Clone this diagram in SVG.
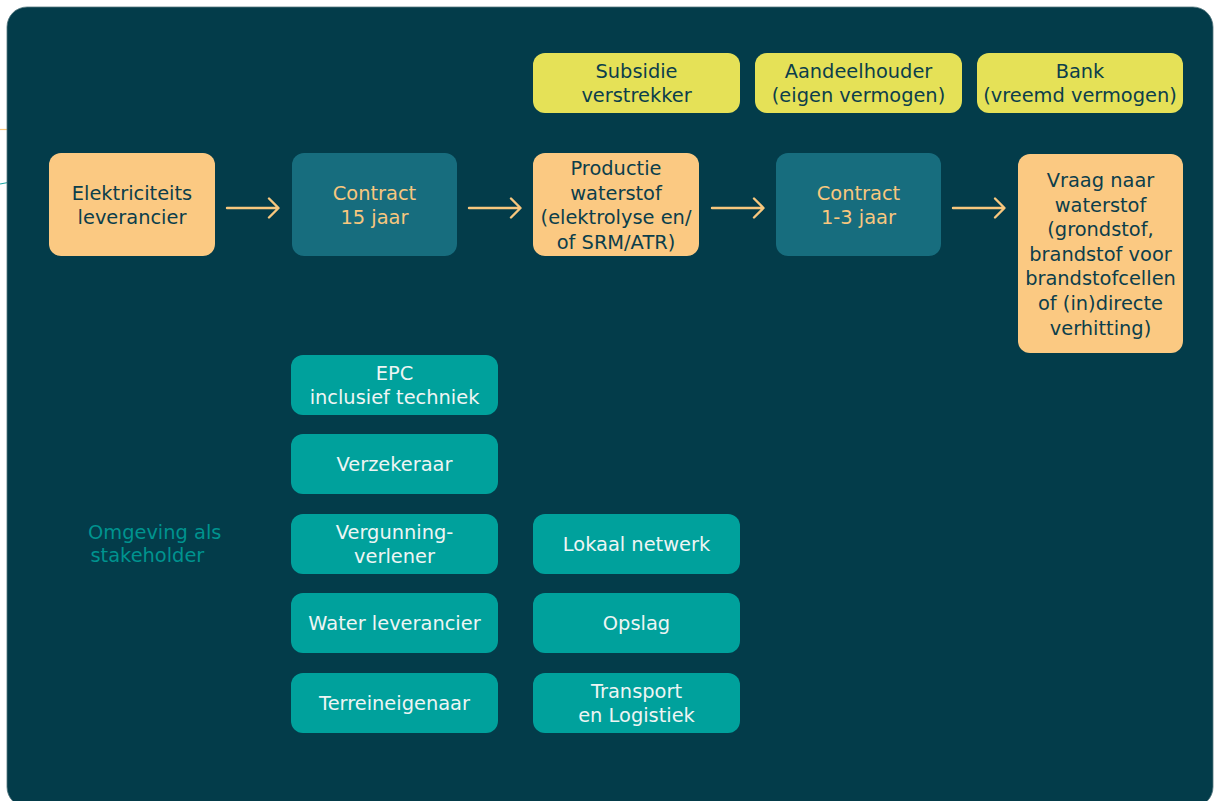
<svg xmlns="http://www.w3.org/2000/svg" width="1214" height="801" viewBox="0 0 1214 801">
<style>
text{font-family:"DejaVu Sans","Verdana",sans-serif;font-size:19.4px;text-anchor:middle}
.or{fill:#fbc982}
.ct{fill:#176d7e}
.ye{fill:#e5e157}
.tl{fill:#00a19c}
.dk{fill:#0c3e4b}
.ot{fill:#f8c77e}
.wt{fill:#eef5f4}
.conn path{fill:none;stroke:#f8c77e;stroke-width:2.4;stroke-linecap:round;stroke-linejoin:round}
</style>
<rect width="1214" height="801" fill="#ffffff"/>
<line x1="0" y1="129.5" x2="8" y2="129.5" stroke="#f8c77e" stroke-width="1.2"/>
<line x1="0" y1="184" x2="8" y2="182.5" stroke="#1aa6a4" stroke-width="1.2"/>
<rect x="7" y="7" width="1206" height="800" rx="20" fill="#033c4a" stroke="#56777f" stroke-width="0.8"/>

<g id="n-subsidie"><rect class="ye" x="533" y="53" width="207" height="60" rx="12"/><text class="dk" x="636.5" y="78">Subsidie</text><text class="dk" x="636.5" y="102">verstrekker</text></g>
<g id="n-aandeelhouder"><rect class="ye" x="755" y="53" width="207" height="60" rx="12"/><text class="dk" x="858.5" y="78">Aandeelhouder</text><text class="dk" x="858.5" y="102">(eigen vermogen)</text></g>
<g id="n-bank"><rect class="ye" x="977" y="53" width="206" height="60" rx="12"/><text class="dk" x="1080" y="78">Bank</text><text class="dk" x="1080" y="102">(vreemd vermogen)</text></g>

<g id="n-elek"><rect class="or" x="49" y="153" width="166" height="103" rx="12"/><text class="dk" x="132" y="200">Elektriciteits</text><text class="dk" x="132" y="224">leverancier</text></g>
<g id="n-contract15"><rect class="ct" x="292" y="153" width="165" height="103" rx="12"/><text class="ot" x="374.5" y="200">Contract</text><text class="ot" x="374.5" y="224">15 jaar</text></g>
<g id="n-productie"><rect class="or" x="533" y="153" width="166" height="103" rx="12"/><text class="dk" x="616" y="175">Productie</text><text class="dk" x="616" y="199.5">waterstof</text><text class="dk" x="616" y="224">(elektrolyse en/</text><text class="dk" x="616" y="248.5">of SRM/ATR)</text></g>
<g id="n-contract13"><rect class="ct" x="776" y="153" width="165" height="103" rx="12"/><text class="ot" x="858.5" y="200">Contract</text><text class="ot" x="858.5" y="224">1-3 jaar</text></g>
<g id="n-vraag"><rect class="or" x="1018" y="154" width="165" height="199" rx="12"/>
<text class="dk" x="1100.5" y="187">Vraag naar</text><text class="dk" x="1100.5" y="211.6">waterstof</text><text class="dk" x="1100.5" y="236.2">(grondstof,</text><text class="dk" x="1100.5" y="260.8">brandstof voor</text><text class="dk" x="1100.5" y="285.4">brandstofcellen</text><text class="dk" x="1100.5" y="310">of (in)directe</text><text class="dk" x="1100.5" y="334.6">verhitting)</text></g>

<g id="connectors" class="conn">
<path d="M227 208H278M269 198.5L278.5 208L269 217.5"/>
<path d="M469 208H520M511 198.5L520.5 208L511 217.5"/>
<path d="M712 208H763M754 198.5L763.5 208L754 217.5"/>
<path d="M953 208H1004M995 198.5L1004.5 208L995 217.5"/>
</g>

<g id="n-epc"><rect class="tl" x="291" y="355" width="207" height="60" rx="12"/><text class="wt" x="394.5" y="380">EPC</text><text class="wt" x="394.5" y="404">inclusief techniek</text></g>
<g id="n-verzekeraar"><rect class="tl" x="291" y="434" width="207" height="60" rx="12"/><text class="wt" x="394.5" y="471">Verzekeraar</text></g>
<g id="n-vergunning"><rect class="tl" x="291" y="514" width="207" height="60" rx="12"/><text class="wt" x="394.5" y="539">Vergunning-</text><text class="wt" x="394.5" y="563">verlener</text></g>
<g id="n-water"><rect class="tl" x="291" y="593" width="207" height="60" rx="12"/><text class="wt" x="394.5" y="630">Water leverancier</text></g>
<g id="n-terrein"><rect class="tl" x="291" y="673" width="207" height="60" rx="12"/><text class="wt" x="394.5" y="710">Terreineigenaar</text></g>
<g id="n-lokaal"><rect class="tl" x="533" y="514" width="207" height="60" rx="12"/><text class="wt" x="636.5" y="551">Lokaal netwerk</text></g>
<g id="n-opslag"><rect class="tl" x="533" y="593" width="207" height="60" rx="12"/><text class="wt" x="636.5" y="630">Opslag</text></g>
<g id="n-transport"><rect class="tl" x="533" y="673" width="207" height="60" rx="12"/><text class="wt" x="636.5" y="698">Transport</text><text class="wt" x="636.5" y="722">en Logistiek</text></g>

<g id="n-omgeving"><text x="88" y="539" style="text-anchor:start;fill:#00938f">Omgeving als</text><text x="90.5" y="562" style="text-anchor:start;fill:#00938f">stakeholder</text></g>
</svg>
